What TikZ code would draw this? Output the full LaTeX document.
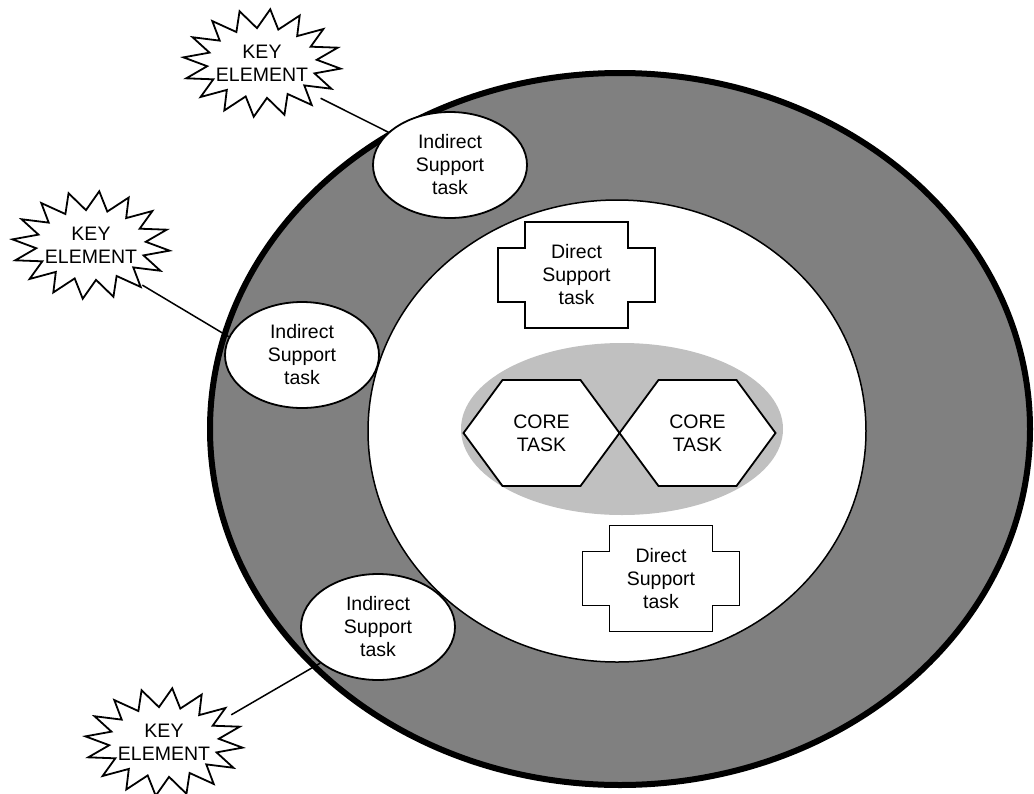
\documentclass[tikz,border=0pt]{standalone}
\usepackage{fontspec}
\setmainfont{Liberation Sans}
\usetikzlibrary{shapes.geometric}
\definecolor{ringgray}{HTML}{808080}
\definecolor{coregray}{HTML}{C0C0C0}
\begin{document}
\begin{tikzpicture}[x=1pt,y=-1pt,
  lbl/.style={align=center, font=\fontsize{19.5}{23}\selectfont, inner sep=0pt},
  shapeline/.style={draw=black, line width=1.8pt, fill=white, line join=miter},
  indirect/.style={lbl, ellipse, draw=black, line width=1.8pt, fill=white,
    minimum width=154pt, minimum height=106pt},
  keyel/.style={lbl, ellipse, minimum width=156pt, minimum height=106pt},
  link/.style={draw=black, line width=1.5pt},
  burstline/.style={draw=black, line width=1.8pt, fill=white, line join=miter}
]
\useasboundingbox (0,0) rectangle (1034,793);

% outer ring, inner field and core zone
\draw[draw=black, line width=6pt, fill=ringgray] (620,429) ellipse [x radius=410, y radius=356];
\draw[draw=black, line width=1.5pt, fill=white] (617,431) ellipse [x radius=249, y radius=231];
\fill[coregray] (622,429) ellipse [x radius=161, y radius=86];

% core tasks (hexagons)
\coordinate (c1) at (541.5,433);
\coordinate (c2) at (697.5,433);
\foreach \c in {c1,c2}{
  \draw[shapeline] (\c) ++(-78,0) -- ++(39,-53) -- ++(78,0) -- ++(39,53)
    -- ++(-39,53) -- ++(-78,0) -- cycle;
}
\node[lbl] (core1) at (c1) {CORE\\TASK};
\node[lbl] (core2) at (c2) {CORE\\TASK};

% direct support tasks (cross shapes)
\coordinate (d1) at (576.5,275);
\coordinate (d2) at (661,578.5);
\foreach \d in {d1,d2}{
  \draw[shapeline] (\d) ++(-51.5,-53) -- ++(103,0) -- ++(0,26) -- ++(27,0)
    -- ++(0,54) -- ++(-27,0) -- ++(0,26) -- ++(-103,0) -- ++(0,-26)
    -- ++(-27,0) -- ++(0,-54) -- ++(27,0) -- cycle;
}
\node[lbl] (direct1) at (d1) {Direct\\Support\\task};
\node[lbl] (direct2) at (d2) {Direct\\Support\\task};

% indirect support tasks
\node[indirect] (i1) at (450,165) {Indirect\\Support\\task};
\node[indirect] (i2) at (302,355) {Indirect\\Support\\task};
\node[indirect] (i3) at (378,627) {Indirect\\Support\\task};

% key elements (starbursts)
\coordinate (p1) at (262,63);
\coordinate (p2) at (91,245);
\coordinate (p3) at (164,742);
\foreach \p in {p1,p2,p3}{
  \begin{scope}[shift={(\p)}]
    \draw[burstline] plot[samples at={0,...,31}, variable=\j]
      ({(mod(\j,2)==0 ? 79 : 55)*cos(\j*11.25+6)},
       {(mod(\j,2)==0 ? 54 : 35)*sin(\j*11.25+6)}) -- cycle;
  \end{scope}
}
\node[keyel] (k1) at (p1) {KEY\\ELEMENT};
\node[keyel] (k2) at (p2) {KEY\\ELEMENT};
\node[keyel] (k3) at (p3) {KEY\\ELEMENT};

% connectors
\draw[link] (k1.-31) -- (i1.152);
\draw[link] (k2.-38) -- (i2.166);
\draw[link] (k3.22) -- (i3.212);
\end{tikzpicture}
\end{document}
